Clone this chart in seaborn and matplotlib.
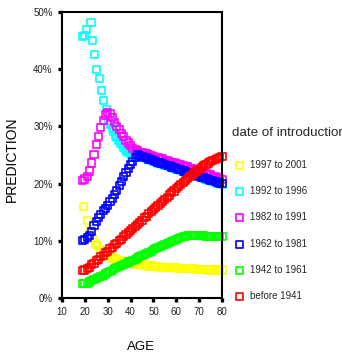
import matplotlib
matplotlib.use("Agg")
import matplotlib.pyplot as plt
import seaborn as sns
import pandas as pd

# Predicted share by respondent age, one series per product cohort
age_1997 = [19.5, 21, 22.5, 23.5, 24.5, 25.5, 27, 28, 29, 30, 31, 32, 33, 34, 35, 36, 37, 38, 39, 40,
            41, 42, 43, 44, 45, 46, 47, 48, 49, 50, 51, 52, 53, 54, 55, 56, 57, 58, 59, 60,
            61, 62, 63, 64, 65, 66, 67, 68, 69, 70, 71, 72, 73, 74, 75, 76, 77, 78, 79, 80]
pred_1997 = [0.160, 0.136, 0.118, 0.104, 0.096, 0.091, 0.085, 0.080, 0.077, 0.074, 0.072, 0.070, 0.069,
             0.067, 0.066, 0.065, 0.064, 0.063, 0.062, 0.061, 0.060, 0.059, 0.059, 0.058, 0.058, 0.057,
             0.057, 0.056, 0.056, 0.055, 0.055, 0.055, 0.054, 0.054, 0.054, 0.054, 0.053, 0.053, 0.053,
             0.053, 0.052, 0.052, 0.052, 0.052, 0.051, 0.051, 0.051, 0.051, 0.050, 0.050, 0.050, 0.050,
             0.050, 0.049, 0.049, 0.049, 0.049, 0.049, 0.049, 0.049]

age_1992 = [19, 19.9, 20.9, 22.7, 23.4, 24.1, 24.9, 26.3, 27.2, 28.1, 29.3, 30.4, 31.2, 31.9, 32.6,
            33.3, 34, 34.8, 35.5, 36.3, 37, 37.7, 38.4, 39.2, 39.9, 40.6, 41.5,
            42, 43, 44, 45, 46, 47, 48, 49, 50, 51, 52, 53, 54, 55, 56, 57, 58, 59, 60,
            61, 62, 63, 64, 65, 66, 67, 68, 69, 70, 71, 72, 73, 74, 75, 76, 77, 78, 79, 80]
pred_1992 = [0.457, 0.459, 0.470, 0.482, 0.450, 0.426, 0.400, 0.383, 0.362, 0.346, 0.330, 0.311, 0.303,
             0.297, 0.291, 0.285, 0.280, 0.275, 0.271, 0.268, 0.264, 0.260, 0.257, 0.254, 0.252, 0.250,
             0.249, 0.248, 0.248, 0.247, 0.246, 0.245, 0.244, 0.242, 0.241, 0.239, 0.238, 0.236, 0.235,
             0.234, 0.232, 0.231, 0.230, 0.228, 0.227, 0.225, 0.224, 0.223, 0.221, 0.220, 0.218, 0.217,
             0.216, 0.214, 0.213, 0.212, 0.210, 0.209, 0.208, 0.206, 0.205, 0.204, 0.202, 0.201, 0.200,
             0.199]

age_1982 = [19, 20, 21, 22, 23, 24, 25, 26, 27, 28, 29, 30, 31, 32, 33, 34, 35, 36, 37, 38, 39, 40,
            41, 42, 43, 44, 45, 46, 47, 48, 49, 50, 51, 52, 53, 54, 55, 56, 57, 58, 59, 60,
            61, 62, 63, 64, 65, 66, 67, 68, 69, 70, 71, 72, 73, 74, 75, 76, 77, 78, 79, 80]
pred_1982 = [0.205, 0.208, 0.213, 0.222, 0.236, 0.251, 0.268, 0.282, 0.298, 0.311, 0.320, 0.325, 0.323,
             0.315, 0.307, 0.300, 0.294, 0.288, 0.282, 0.276, 0.271, 0.266, 0.262, 0.259, 0.257, 0.255,
             0.254, 0.253, 0.252, 0.250, 0.249, 0.248, 0.246, 0.245, 0.244, 0.243, 0.241, 0.240, 0.239,
             0.237, 0.236, 0.235, 0.234, 0.233, 0.231, 0.230, 0.229, 0.227, 0.226, 0.225, 0.223, 0.222,
             0.221, 0.219, 0.218, 0.216, 0.215, 0.213, 0.212, 0.210, 0.209, 0.207]

age_1962 = age_1982
pred_1962 = [0.100, 0.102, 0.105, 0.110, 0.116, 0.127, 0.134, 0.140, 0.146, 0.153, 0.157, 0.162, 0.168,
             0.174, 0.181, 0.188, 0.196, 0.204, 0.212, 0.219, 0.226, 0.234, 0.239, 0.245, 0.250, 0.249,
             0.248, 0.246, 0.245, 0.243, 0.242, 0.240, 0.239, 0.237, 0.236, 0.235, 0.233, 0.232, 0.231,
             0.229, 0.228, 0.226, 0.225, 0.224, 0.222, 0.221, 0.219, 0.218, 0.217, 0.215, 0.214, 0.213,
             0.211, 0.210, 0.209, 0.207, 0.206, 0.205, 0.203, 0.202, 0.201, 0.200]

age_1942 = age_1982
pred_1942 = [0.025, 0.025, 0.026, 0.028, 0.030, 0.032, 0.034, 0.036, 0.038, 0.040, 0.042, 0.044, 0.046,
             0.048, 0.051, 0.053, 0.055, 0.057, 0.059, 0.061, 0.063, 0.064, 0.066, 0.068, 0.070, 0.072,
             0.074, 0.076, 0.078, 0.080, 0.082, 0.084, 0.086, 0.088, 0.090, 0.092, 0.094, 0.096, 0.097,
             0.099, 0.101, 0.102, 0.104, 0.105, 0.107, 0.108, 0.109, 0.110, 0.110, 0.110, 0.110, 0.110,
             0.109, 0.109, 0.108, 0.108, 0.107, 0.107, 0.107, 0.107, 0.107, 0.107]

age_1941 = age_1982
pred_1941 = [0.048, 0.049, 0.051, 0.054, 0.058, 0.061, 0.065, 0.068, 0.072, 0.075, 0.079, 0.082, 0.086,
             0.089, 0.093, 0.096, 0.100, 0.103, 0.107, 0.111, 0.114, 0.118, 0.121, 0.125, 0.129, 0.132,
             0.136, 0.140, 0.143, 0.147, 0.151, 0.154, 0.158, 0.162, 0.165, 0.169, 0.173, 0.176, 0.180,
             0.184, 0.187, 0.191, 0.195, 0.198, 0.202, 0.205, 0.209, 0.212, 0.216, 0.219, 0.222, 0.225,
             0.228, 0.231, 0.234, 0.236, 0.238, 0.240, 0.242, 0.244, 0.246, 0.247]

cohorts = ["1997 to 2001", "1992 to 1996", "1982 to 1991", "1962 to 1981", "1942 to 1961", "before 1941"]
ages = [age_1997, age_1992, age_1982, age_1962, age_1942, age_1941]
preds = [pred_1997, pred_1992, pred_1982, pred_1962, pred_1942, pred_1941]
colors = ["#FFFF00", "#00FFFF", "#FF00FF", "#0000FF", "#00FF00", "#FF0000"]

x_ticks = [10, 20, 30, 40, 50, 60, 70, 80]
y_ticks = [0.0, 0.1, 0.2, 0.3, 0.4, 0.5]
y_tick_labels = ["0%", "10%", "20%", "30%", "40%", "50%"]

frames = [pd.DataFrame({"AGE": a, "PREDICTION": p, "cohort": c})
          for a, p, c in zip(ages, preds, cohorts)]
df = pd.concat(frames, ignore_index=True)

sns.set_theme(style="white")
plt.rcParams["font.family"] = ["Liberation Sans", "DejaVu Sans"]

fig = plt.figure(figsize=(3.42, 3.58), dpi=100)
ax = fig.add_axes([62 / 342, 1 - 298 / 358, 160 / 342, 286 / 358])

for cohort, color in zip(cohorts, colors):
    sub = df[df["cohort"] == cohort]
    sns.scatterplot(data=sub, x="AGE", y="PREDICTION", ax=ax, marker="s", s=26,
                    color=color, facecolors="none", edgecolors=color, linewidth=1.2,
                    label=cohort, clip_on=False, legend=False)

ax.set_xlim(10, 80)
ax.set_ylim(0, 0.5)
ax.set_xticks(x_ticks)
ax.set_xticklabels([str(t) for t in x_ticks])
ax.set_yticks(y_ticks)
ax.set_yticklabels(y_tick_labels)
ax.tick_params(axis="both", direction="out", length=3.2, width=2.4, color="black",
               labelsize=7, labelcolor="#222222", pad=3.5, bottom=True, left=True)

for side, spine in ax.spines.items():
    spine.set_visible(True)
    spine.set_color("black")
    spine.set_linewidth(1.5)

ax.set_xlabel("AGE", fontsize=9.5, color="black")
ax.set_ylabel("PREDICTION", fontsize=10, color="black")
ax.xaxis.set_label_coords(0.494, -0.15)
ax.yaxis.set_label_coords(-0.27, 0.486)

handles, labels = ax.get_legend_handles_labels()
leg = ax.legend(handles, labels, title="date of introductior", loc="upper left",
                bbox_to_anchor=(230 / 342, 1 - 125 / 358), bbox_transform=fig.transFigure,
                frameon=False, fontsize=7, title_fontsize=9.6, alignment="left",
                handlelength=1.5, handletextpad=0.4, labelspacing=1.68,
                borderpad=0.2, borderaxespad=0)
leg._legend_box.sep = 15

fig.savefig("out.png", dpi=100)
